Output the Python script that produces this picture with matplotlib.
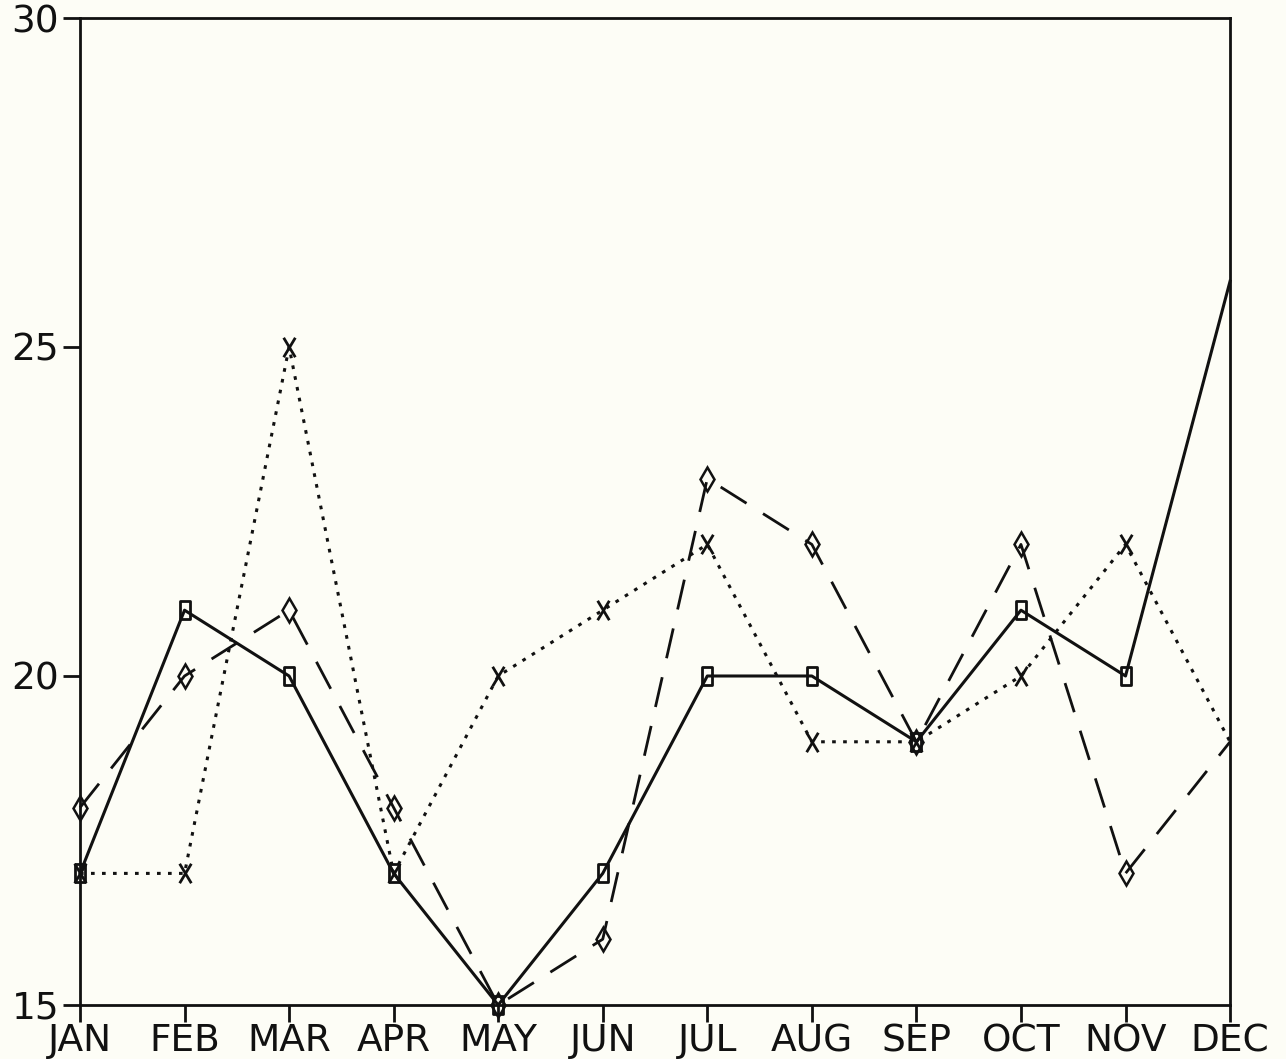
import matplotlib
matplotlib.use("Agg")
import matplotlib.pyplot as plt
from matplotlib.path import Path

months = ["JAN", "FEB", "MAR", "APR", "MAY", "JUN",
          "JUL", "AUG", "SEP", "OCT", "NOV", "DEC"]
series_solid = [17, 21, 20, 17, 15, 17, 20, 20, 19, 21, 20, 26]
series_dotted = [17, 17, 25, 17, 20, 21, 22, 19, 19, 20, 22, 19]
series_dashed = [18, 20, 21, 18, 15, 16, 23, 22, 19, 22, 17, 19]
y_ticks = [15, 20, 25, 30]

plt.rcParams['font.family'] = ['DejaVu Sans']
bg = '#fdfdf6'
fig = plt.figure(figsize=(12.86, 10.59), dpi=100, facecolor=bg)
ax = fig.add_axes([0.0622, 0.051, 0.8943, 0.932], facecolor=bg)

x = list(range(len(months)))
ink = '#111111'

# plotter-style glyph markers: tall box, letter X
box = Path([(-0.55, -1), (0.55, -1), (0.55, 1), (-0.55, 1), (-0.55, -1)],
           [Path.MOVETO, Path.LINETO, Path.LINETO, Path.LINETO, Path.CLOSEPOLY])
cross = Path([(-0.6, -1), (0.6, 1), (-0.6, 1), (0.6, -1)],
             [Path.MOVETO, Path.LINETO, Path.MOVETO, Path.LINETO])
marks = slice(0, len(months) - 1)

ax.plot(x, series_dashed, color=ink, lw=2.0, dashes=(11, 7),
        marker='d', markersize=12, markerfacecolor='none', markevery=marks,
        markeredgewidth=1.8, markeredgecolor=ink, clip_on=False, zorder=3)
ax.plot(x, series_dotted, color=ink, lw=2.2, dashes=(1.2, 2.4),
        marker=cross, markersize=14, markeredgewidth=2.0, markevery=marks,
        markeredgecolor=ink, clip_on=False, zorder=3)
ax.plot(x, series_solid, color=ink, lw=2.2, linestyle='-',
        marker=box, markersize=13, markerfacecolor='none', markevery=marks,
        markeredgewidth=2.0, markeredgecolor=ink, clip_on=False, zorder=4)

ax.set_xlim(0, len(months) - 1)
ax.set_ylim(15, 30)
ax.set_xticks(x)
ax.set_xticklabels(months)
ax.set_yticks(y_ticks)
ax.set_yticklabels([str(v) for v in y_ticks])

for s in ax.spines.values():
    s.set_linewidth(2.0)
    s.set_color(ink)
ax.tick_params(axis='both', direction='out', length=12, width=2.0,
               colors=ink, labelsize=27, pad=1)
ax.tick_params(axis='y', pad=3)

fig.savefig("out.png", dpi=100, facecolor=bg)
